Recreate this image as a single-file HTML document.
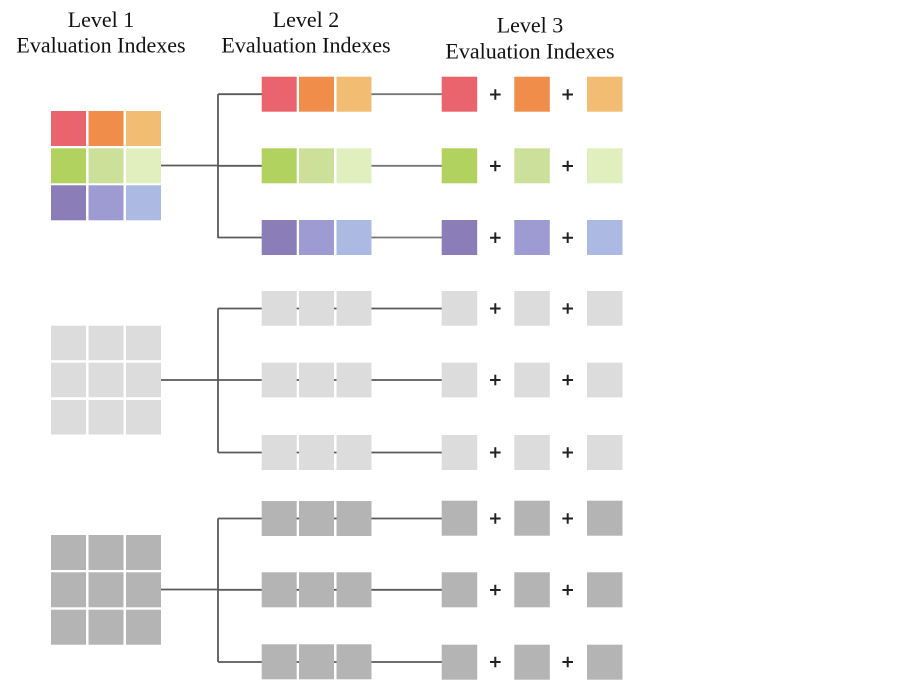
<!DOCTYPE html>
<html><head><meta charset="utf-8"><style>
html,body{margin:0;padding:0;background:#fff;}
svg{display:block;}
</style></head><body>
<svg width="903" height="684" viewBox="0 0 903 684" xmlns="http://www.w3.org/2000/svg">
<rect width="903" height="684" fill="#fff"/>
<g style="font-family:'Liberation Serif','Times New Roman',serif;font-size:22px;" font-family="Liberation Serif, Times New Roman, serif" font-size="22" fill="#111">
<text x="101" y="27" text-anchor="middle">Level 1</text>
<text x="101" y="52.5" text-anchor="middle">Evaluation Indexes</text>
<text x="306" y="27" text-anchor="middle">Level 2</text>
<text x="306" y="52.5" text-anchor="middle">Evaluation Indexes</text>
<text x="530" y="32.5" text-anchor="middle">Level 3</text>
<text x="530" y="58.5" text-anchor="middle">Evaluation Indexes</text>
</g>

<g stroke="#5a5a5a" stroke-width="1.8" fill="none">
<line x1="161" y1="165.5" x2="218" y2="165.5"/>
<line x1="218" y1="94" x2="218" y2="238"/>
<line x1="218" y1="94.2" x2="262" y2="94.2"/>
<line x1="218" y1="165.8" x2="262" y2="165.8"/>
<line x1="218" y1="237.5" x2="262" y2="237.5"/>
<line x1="371" y1="94.2" x2="442" y2="94.2" stroke="#777"/>
<line x1="371" y1="165.8" x2="442" y2="165.8" stroke="#777"/>
<line x1="371" y1="237.5" x2="442" y2="237.5" stroke="#777"/>
<line x1="161" y1="380" x2="218" y2="380"/>
<line x1="218" y1="308.5" x2="218" y2="452.5"/>
<line x1="218" y1="308.5" x2="442" y2="308.5"/>
<line x1="218" y1="380" x2="442" y2="380"/>
<line x1="218" y1="452.5" x2="442" y2="452.5"/>
<line x1="161" y1="589.5" x2="218" y2="589.5"/>
<line x1="218" y1="518.5" x2="218" y2="662"/>
<line x1="218" y1="518.5" x2="442" y2="518.5"/>
<line x1="218" y1="589.8" x2="442" y2="589.8"/>
<line x1="218" y1="662" x2="442" y2="662"/>
</g>

<g>
<rect x="51" y="111" width="35" height="35" fill="#e9646c"/>
<rect x="88.5" y="111" width="35" height="35" fill="#f08d4b"/>
<rect x="126" y="111" width="35" height="35" fill="#f2bc72"/>
<rect x="51" y="148.3" width="35" height="35" fill="#b1d25e"/>
<rect x="88.5" y="148.3" width="35" height="35" fill="#cde09a"/>
<rect x="126" y="148.3" width="35" height="35" fill="#e0efbd"/>
<rect x="51" y="185.3" width="35" height="35" fill="#8a7db8"/>
<rect x="88.5" y="185.3" width="35" height="35" fill="#9d9bd1"/>
<rect x="126" y="185.3" width="35" height="35" fill="#abb9e3"/>
</g>
<g fill="#dcdcdc">
<rect x="51" y="325.7" width="35" height="34.5"/>
<rect x="88.5" y="325.7" width="35" height="34.5"/>
<rect x="126" y="325.7" width="35" height="34.5"/>
<rect x="51" y="362.7" width="35" height="34.5"/>
<rect x="88.5" y="362.7" width="35" height="34.5"/>
<rect x="126" y="362.7" width="35" height="34.5"/>
<rect x="51" y="400" width="35" height="34.5"/>
<rect x="88.5" y="400" width="35" height="34.5"/>
<rect x="126" y="400" width="35" height="34.5"/>
</g>
<g fill="#b4b4b4">
<rect x="51" y="535" width="35" height="35"/>
<rect x="88.5" y="535" width="35" height="35"/>
<rect x="126" y="535" width="35" height="35"/>
<rect x="51" y="572.3" width="35" height="35"/>
<rect x="88.5" y="572.3" width="35" height="35"/>
<rect x="126" y="572.3" width="35" height="35"/>
<rect x="51" y="609.7" width="35" height="35"/>
<rect x="88.5" y="609.7" width="35" height="35"/>
<rect x="126" y="609.7" width="35" height="35"/>
</g>

<g>
<rect x="261.7" y="76.7" width="35" height="35" fill="#e9646c"/>
<rect x="299" y="76.7" width="35" height="35" fill="#f08d4b"/>
<rect x="336.5" y="76.7" width="35" height="35" fill="#f2bc72"/>
<rect x="261.7" y="148.3" width="35" height="35" fill="#b1d25e"/>
<rect x="299" y="148.3" width="35" height="35" fill="#cde09a"/>
<rect x="336.5" y="148.3" width="35" height="35" fill="#e0efbd"/>
<rect x="261.7" y="220" width="35" height="35" fill="#8a7db8"/>
<rect x="299" y="220" width="35" height="35" fill="#9d9bd1"/>
<rect x="336.5" y="220" width="35" height="35" fill="#abb9e3"/>
</g>
<g fill="#dcdcdc">
<rect x="261.7" y="291" width="35" height="34.7"/>
<rect x="299" y="291" width="35" height="34.7"/>
<rect x="336.5" y="291" width="35" height="34.7"/>
<rect x="261.7" y="362.7" width="35" height="34.7"/>
<rect x="299" y="362.7" width="35" height="34.7"/>
<rect x="336.5" y="362.7" width="35" height="34.7"/>
<rect x="261.7" y="435" width="35" height="35"/>
<rect x="299" y="435" width="35" height="35"/>
<rect x="336.5" y="435" width="35" height="35"/>
</g>
<g fill="#b4b4b4">
<rect x="261.7" y="501" width="35" height="35"/>
<rect x="299" y="501" width="35" height="35"/>
<rect x="336.5" y="501" width="35" height="35"/>
<rect x="261.7" y="572.3" width="35" height="35"/>
<rect x="299" y="572.3" width="35" height="35"/>
<rect x="336.5" y="572.3" width="35" height="35"/>
<rect x="261.7" y="644.3" width="35" height="35"/>
<rect x="299" y="644.3" width="35" height="35"/>
<rect x="336.5" y="644.3" width="35" height="35"/>
</g>

<g>
<rect x="441.7" y="76.7" width="35.5" height="35" fill="#e9646c"/>
<rect x="514.3" y="76.7" width="35.5" height="35" fill="#f08d4b"/>
<rect x="587" y="76.7" width="35.5" height="35" fill="#f2bc72"/>
<rect x="441.7" y="148.3" width="35.5" height="35" fill="#b1d25e"/>
<rect x="514.3" y="148.3" width="35.5" height="35" fill="#cde09a"/>
<rect x="587" y="148.3" width="35.5" height="35" fill="#e0efbd"/>
<rect x="441.7" y="220" width="35.5" height="35" fill="#8a7db8"/>
<rect x="514.3" y="220" width="35.5" height="35" fill="#9d9bd1"/>
<rect x="587" y="220" width="35.5" height="35" fill="#abb9e3"/>
</g>
<g fill="#dcdcdc">
<rect x="441.7" y="291" width="35.5" height="34.7"/>
<rect x="514.3" y="291" width="35.5" height="34.7"/>
<rect x="587" y="291" width="35.5" height="34.7"/>
<rect x="441.7" y="362.7" width="35.5" height="34.7"/>
<rect x="514.3" y="362.7" width="35.5" height="34.7"/>
<rect x="587" y="362.7" width="35.5" height="34.7"/>
<rect x="441.7" y="435" width="35.5" height="35"/>
<rect x="514.3" y="435" width="35.5" height="35"/>
<rect x="587" y="435" width="35.5" height="35"/>
</g>
<g fill="#b4b4b4">
<rect x="441.7" y="500.7" width="35.5" height="35"/>
<rect x="514.3" y="500.7" width="35.5" height="35"/>
<rect x="587" y="500.7" width="35.5" height="35"/>
<rect x="441.7" y="572.3" width="35.5" height="35"/>
<rect x="514.3" y="572.3" width="35.5" height="35"/>
<rect x="587" y="572.3" width="35.5" height="35"/>
<rect x="441.7" y="644.7" width="35.5" height="35"/>
<rect x="514.3" y="644.7" width="35.5" height="35"/>
<rect x="587" y="644.7" width="35.5" height="35"/>
</g>

<g stroke="#222" stroke-width="2">
<path d="M490 94.5h10.6M495.3 89.2v10.6 M562.4 94.5h10.6M567.7 89.2v10.6"/>
<path d="M490 166h10.6M495.3 160.7v10.6 M562.4 166h10.6M567.7 160.7v10.6"/>
<path d="M490 237.7h10.6M495.3 232.4v10.6 M562.4 237.7h10.6M567.7 232.4v10.6"/>
<path d="M490 308.5h10.6M495.3 303.2v10.6 M562.4 308.5h10.6M567.7 303.2v10.6"/>
<path d="M490 380h10.6M495.3 374.7v10.6 M562.4 380h10.6M567.7 374.7v10.6"/>
<path d="M490 452.5h10.6M495.3 447.2v10.6 M562.4 452.5h10.6M567.7 447.2v10.6"/>
<path d="M490 518.5h10.6M495.3 513.2v10.6 M562.4 518.5h10.6M567.7 513.2v10.6"/>
<path d="M490 590h10.6M495.3 584.7v10.6 M562.4 590h10.6M567.7 584.7v10.6"/>
<path d="M490 662h10.6M495.3 656.7v10.6 M562.4 662h10.6M567.7 656.7v10.6"/>
</g>
</svg>
</body></html>
